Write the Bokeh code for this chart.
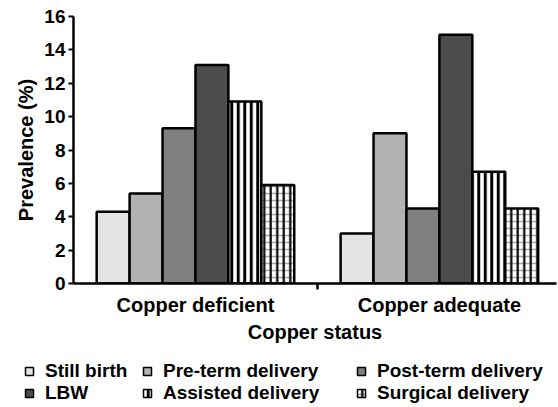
from bokeh.plotting import figure
from bokeh.layouts import column
from bokeh.models import Range1d, FixedTicker, Legend, LegendItem
from bokeh.embed import file_html
from bokeh.resources import INLINE

# Prevalence (%) of pregnancy outcomes by maternal copper status
groups = ["Copper deficient", "Copper adequate"]
series = ["Still birth", "Pre-term delivery", "Post-term delivery",
          "LBW", "Assisted delivery", "Surgical delivery"]
still_birth = [4.3, 3.0]
pre_term = [5.4, 9.0]
post_term = [9.3, 4.5]
lbw = [13.1, 14.9]
assisted = [10.9, 6.7]
surgical = [5.9, 4.5]
values = [still_birth, pre_term, post_term, lbw, assisted, surgical]
y_ticks = [0, 2, 4, 6, 8, 10, 12, 14, 16]

FONT = "Liberation Sans"
BAR_W = 0.135
MAIN_H = 345
LEGEND_COLS = 3
LEGEND_COL_X = [13, 131, 345]   # left edge of each legend column, px

p = figure(width=558, height=MAIN_H, output_backend="svg", toolbar_location=None,
           x_range=Range1d(0, 1.98), y_range=Range1d(0, 16),
           min_border_left=73, min_border_right=2, min_border_top=16,
           min_border_bottom=MAIN_H - 283)
p.outline_line_color = None
p.grid.grid_line_color = None

group_centers = [i + 0.5 for i in range(len(groups))]

def xs_for(k):
    return [c + (k - (len(series) - 1) / 2) * BAR_W for c in group_centers]

solid_fills = ["#e3e3e3", "#b2b2b2", "#808080", "#4c4c4c"]

def style_for(k):
    """Fill/hatch layers for series k (a list of property dicts)."""
    name = series[k]
    if k < 4:
        return [dict(fill_color=solid_fills[k], line_color="black")]
    if name == "Assisted delivery":
        return [dict(fill_color="white", hatch_pattern="|", hatch_color="black",
                     hatch_weight=3, hatch_scale=6.5, line_color="black")]
    return [dict(fill_color="white", hatch_pattern="-", hatch_color="#a8a8a8",
                 hatch_weight=1.5, hatch_scale=7, line_color=None),
            dict(fill_alpha=0, hatch_pattern="|", hatch_color="black",
                 hatch_weight=2.2, hatch_scale=6.5, line_color="black")]

sources = []
for k, name in enumerate(series):
    src = dict(x=xs_for(k), top=values[k])
    sources.append(src)
    for layer in style_for(k):
        p.vbar(x="x", top="top", width=BAR_W, bottom=0, line_width=2.5,
               source=src, **layer)

# y axis
ya = p.yaxis[0]
ya.ticker = FixedTicker(ticks=y_ticks, minor_ticks=[])
ya.axis_label = "Prevalence (%)"
ya.axis_label_text_font = FONT
ya.axis_label_text_font_style = "bold"
ya.axis_label_text_font_size = "20px"
ya.axis_label_text_color = "black"
ya.axis_label_standoff = 4
ya.major_label_text_font = FONT
ya.major_label_text_font_style = "bold"
ya.major_label_text_font_size = "19px"
ya.major_label_text_color = "black"
ya.major_label_standoff = 3
ya.axis_line_width = 2.5
ya.axis_line_color = "black"
ya.major_tick_line_width = 2
ya.major_tick_out = 5
ya.major_tick_in = 0

# x axis: category labels at group centres, tick mark on the boundary
xa = p.xaxis[0]
xa.ticker = FixedTicker(ticks=group_centers,
                        minor_ticks=[i for i in range(1, len(groups))])
xa.major_label_overrides = {c: g for c, g in zip(group_centers, groups)}
xa.major_tick_line_color = None
xa.major_tick_out = 0
xa.major_tick_in = 0
xa.minor_tick_line_color = "black"
xa.minor_tick_line_width = 2.5
xa.minor_tick_out = 6
xa.minor_tick_in = 0
xa.axis_line_width = 2.5
xa.axis_line_color = "black"
xa.major_label_text_font = FONT
xa.major_label_text_font_style = "bold"
xa.major_label_text_font_size = "20px"
xa.major_label_text_color = "black"
xa.major_label_standoff = 4
xa.axis_label = "Copper status"
xa.axis_label_text_font = FONT
xa.axis_label_text_font_style = "bold"
xa.axis_label_text_font_size = "20px"
xa.axis_label_text_color = "black"
xa.axis_label_standoff = 2

# Legend strip below the chart (its proxy markers sit outside the visible range)
LG_H = 407 - MAIN_H
lg = figure(width=558, height=LG_H, output_backend="svg",
            toolbar_location=None, x_axis_type=None, y_axis_type=None,
            x_range=Range1d(10, 11), y_range=Range1d(10, 11),
            min_border_left=0, min_border_top=0, min_border_right=0,
            min_border_bottom=0)
lg.grid.grid_line_color = None
lg.outline_line_color = None

# the legend strip spans the full width, independent of the chart's frame
for fig in (p, lg):
    if "frame_align" in fig.properties():
        fig.frame_align = False

items = []
for k, name in enumerate(series):
    rs = [lg.scatter(x="x", y="top", marker="square", size=8, line_width=1.5,
                     source=dict(sources[k]), **layer)
          for layer in style_for(k)]
    items.append(LegendItem(label=name, renderers=rs))

# one legend per column, rows read left to right
for c in range(LEGEND_COLS):
    col_items = items[c::LEGEND_COLS]
    legend = Legend(items=col_items, location=(LEGEND_COL_X[c], 3),
                    glyph_width=32, glyph_height=20, label_standoff=0,
                    spacing=0, padding=0, margin=0,
                    border_line_color=None, background_fill_alpha=0,
                    label_text_font=FONT, label_text_font_style="bold",
                    label_text_font_size="19px", label_text_color="black",
                    label_height=20)
    lg.add_layout(legend)

open("out.html", "w").write(file_html(column(p, lg, spacing=0), INLINE))
